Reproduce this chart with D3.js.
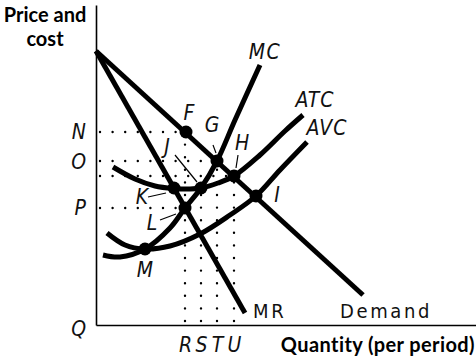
<!DOCTYPE html>
<html>
<head>
<meta charset="utf-8">
<script src="https://cdn.jsdelivr.net/npm/d3@7"></script>
<style>
  html, body { margin: 0; padding: 0; background: #fff; }
  svg { display: block; }
  .lbl { font-family: "Liberation Sans Narrow", "DejaVu Sans Condensed", sans-serif; font-style: italic; font-size: 21px; fill: #111; }
  .up { font-family: "Liberation Sans Narrow", "DejaVu Sans Condensed", sans-serif; font-size: 20px; fill: #111; letter-spacing: 2.6px; }
  .title { font-family: Lato, "Open Sans", sans-serif; font-weight: 700; font-size: 20px; fill: #000; }
</style>
</head>
<body>
<svg id="chart" width="476" height="360"></svg>
<script>
// ---- data (quantity units / price units) ----
const demandCurve = [[0, 27.4], [26.7, 3.0]];
const mrCurve = [[0, 27.4], [14.9, 1.2]];
const mcCurve = [[0.7, 7.0], [2.4, 6.8], [4.9, 7.6], [7.4, 9.7], [8.9, 11.7], [10.5, 13.7], [12.1, 16.4], [13.9, 20.5], [16.4, 26.0]];
const atcCurve = [[1.7, 15.8], [3.9, 14.6], [5.9, 13.9], [7.8, 13.65], [9.4, 13.6], [10.5, 13.7], [12.2, 14.2], [13.8, 14.9], [16.4, 17.0], [18.9, 19.4], [20.7, 21.0]];
const avcCurve = [[1.1, 9.2], [2.9, 8.0], [4.9, 7.6], [7.4, 7.9], [10.4, 9.1], [13.4, 11.0], [16.0, 12.9], [18.4, 15.5], [21.1, 18.3]];

const pointNames = ["F", "G", "H", "I", "J", "K", "L", "M"];
const pointQ     = [9.0, 12.1, 13.8, 16.0, 10.5, 7.8, 8.9, 4.9];
const pointP     = [19.3, 16.4, 14.9, 12.9, 13.7, 13.7, 11.7, 7.6];

const priceTicks  = [0, 11.7, 16.3, 19.3];
const priceLabels = ["Q", "P", "O", "N"];
const qtyTicks    = [8.9, 10.5, 12.1, 13.8];
const qtyLabels   = ["R", "S", "T", "U"];

// guide lines: horizontal price rows to a point, vertical quantity columns from a point
const rowPrices = [19.3, 16.4, 14.9, 11.7];
const rowEndQ   = [9.0, 12.1, 13.8, 8.9];
const colQ      = [8.9, 10.5, 12.1, 13.8];
const colTopP   = [19.3, 13.7, 16.4, 14.9];

// ---- scales ----
const svg = d3.select("#chart");
const x = d3.scaleLinear().domain([0, 38]).range([96, 476]);
const y = d3.scaleLinear().domain([0, 32]).range([325, 5]);

// dotted guides
const guides = svg.append("g").attr("stroke", "#000").attr("stroke-width", 2.4)
  .attr("stroke-linecap", "round").attr("stroke-dasharray", "0,12.6").attr("fill", "none");
rowPrices.forEach((p, i) => {
  guides.append("line").attr("x1", x(0.4)).attr("x2", x(rowEndQ[i])).attr("y1", y(p)).attr("y2", y(p));
});
colQ.forEach((q, i) => {
  guides.append("line").attr("x1", x(q)).attr("x2", x(q)).attr("y1", y(0) - 4).attr("y2", y(colTopP[i]));
});

// axes
const yAxis = d3.axisLeft(y).tickValues(priceTicks).tickFormat((d, i) => priceLabels[i])
  .tickSize(0).tickSizeOuter(0).tickPadding(10);
const xAxis = d3.axisBottom(x).tickValues(qtyTicks).tickFormat((d, i) => qtyLabels[i])
  .tickSize(0).tickSizeOuter(0).tickPadding(12);
const gy = svg.append("g").attr("transform", `translate(${x(0)},0)`).call(yAxis);
const gx = svg.append("g").attr("transform", `translate(0,${y(0)})`).call(xAxis);
[gx, gy].forEach(g => {
  g.select(".domain").attr("stroke", "#000").attr("stroke-width", 1.6);
  g.selectAll("text").attr("class", "lbl").attr("fill", null).attr("font-size", null).attr("font-family", null);
});
gy.selectAll("text").filter((d) => d === 0).attr("dy", "0.5em");

// curves
const straight = d3.line().x(d => x(d[0])).y(d => y(d[1]));
const smooth = d3.line().x(d => x(d[0])).y(d => y(d[1])).curve(d3.curveCatmullRom.alpha(0.5));
const curveG = svg.append("g").attr("fill", "none").attr("stroke", "#000").attr("stroke-width", 5).attr("stroke-linecap", "butt");
curveG.append("path").attr("d", straight(demandCurve));
curveG.append("path").attr("d", straight(mrCurve));
curveG.append("path").attr("d", smooth(mcCurve));
curveG.append("path").attr("d", smooth(atcCurve));
curveG.append("path").attr("d", smooth(avcCurve));

// points
svg.append("g").selectAll("circle").data(pointNames).join("circle")
  .attr("cx", (d, i) => x(pointQ[i])).attr("cy", (d, i) => y(pointP[i])).attr("r", 6.5).attr("fill", "#000");

// point labels (offsets in px) and leader lines
const labelOffset = { F: [3, -19], G: [-5, -36], H: [8, -33], I: [21, -1], J: [-34, -41], K: [-32, 9], L: [-33, 15], M: [0, 21] };
const leader = { G: [[-4, -16], [-1, -8]], H: [[4, -21], [2, -8]], J: [[-26, -33], [-4, -6]], K: [[-26, 9], [-8, 5]], L: [[-25, 12], [-9, 6]] };
pointNames.forEach((n, i) => {
  const px = x(pointQ[i]), py = y(pointP[i]);
  const o = labelOffset[n];
  svg.append("text").attr("class", "lbl").attr("x", px + o[0]).attr("y", py + o[1])
    .attr("text-anchor", "middle").attr("dominant-baseline", "central").text(n);
  if (leader[n]) {
    const l = leader[n];
    svg.append("line").attr("x1", px + l[0][0]).attr("y1", py + l[0][1]).attr("x2", px + l[1][0]).attr("y2", py + l[1][1])
      .attr("stroke", "#000").attr("stroke-width", 1.2);
  }
});

// curve labels
const lastMC = mcCurve[mcCurve.length - 1], lastATC = atcCurve[atcCurve.length - 1], lastAVC = avcCurve[avcCurve.length - 1];
svg.append("text").attr("class", "lbl").attr("x", x(lastMC[0]) + 5).attr("y", y(lastMC[1]) - 13)
  .attr("text-anchor", "middle").attr("dominant-baseline", "central").attr("letter-spacing", "1.5px").text("MC");
svg.append("text").attr("class", "lbl").attr("x", x(lastATC[0]) + 12).attr("y", y(lastATC[1]) - 15)
  .attr("text-anchor", "middle").attr("dominant-baseline", "central").attr("letter-spacing", "1px").text("ATC");
svg.append("text").attr("class", "lbl").attr("x", x(lastAVC[0]) + 20).attr("y", y(lastAVC[1]) - 14)
  .attr("text-anchor", "middle").attr("dominant-baseline", "central").attr("letter-spacing", "1px").text("AVC");
const lastMR = mrCurve[1], lastD = demandCurve[1];
svg.append("text").attr("class", "up").attr("x", x(lastMR[0]) + 8).attr("y", y(lastMR[1]) - 2)
  .attr("dominant-baseline", "central").text("MR");
svg.append("text").attr("class", "up").attr("x", x(lastD[0]) - 23).attr("y", y(lastD[1]) + 16)
  .attr("dominant-baseline", "central").text("Demand");

// axis titles
svg.append("text").attr("class", "title").attr("x", 45).attr("y", 22).attr("text-anchor", "middle").text("Price and");
svg.append("text").attr("class", "title").attr("x", 45).attr("y", 46).attr("text-anchor", "middle").text("cost");
svg.append("text").attr("class", "title").attr("x", 475).attr("y", 352).attr("text-anchor", "end")
  .attr("font-size", "21px").attr("letter-spacing", "0.4px").text("Quantity (per period)");
</script>
</body>
</html>
